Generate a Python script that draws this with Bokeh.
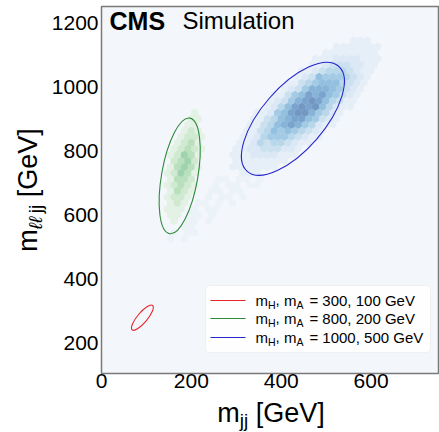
import math
from bokeh.plotting import figure
from bokeh.layouts import row, column
from bokeh.models import Label, BoxAnnotation, Arrow, Range1d, ColumnDataSource
from bokeh.palettes import Blues256, Greens256
from bokeh.transform import linear_cmap
from bokeh.embed import file_html
from bokeh.resources import INLINE

# ---------------- data ----------------
x_ticks = [0, 200, 400, 600]
y_ticks = [200, 400, 600, 800, 1000, 1200]
x_start, x_end = 0, 750
y_start, y_end = 106, 1250

# hexbin cells: hex row k, first hex column, level per cell (digit string, 0 = empty)
blue_rows = [39, 40, 41, 42, 43, 44, 45, 46, 47, 48, 49, 50,
             51, 52, 53, 54, 55, 56, 57, 58, 59, 60, 61]
blue_first = [20, 19, 19, 19, 19, 20, 20, 21, 21, 22, 22, 24,
              24, 25, 26, 27, 28, 29, 30, 31, 32, 34, 36]
blue_levels = ["111", "1111111", "11111111", "1112222111", "1122333221",
               "11243443211", "112455543211", "113465654321", "1134678754211",
               "1134678865321", "1125689975421", "1246898964211", "1235789864311",
               "1135687865321", "123577765321", "113456664321", "12365554321",
               "11234443211", "1123332211", "1112222111", "11111111", "1111111", "111"]

halo_rows = [28, 29, 30, 31, 32, 33, 34, 35, 36, 37, 38]
halo_first = [10, 10, 11, 12, 12, 13, 14, 15, 15, 16, 17]
halo_levels = ["101", "1011", "0110", "1101", "01101", "10110", "110101",
               "101101", "0110110", "1011011", "1101101"]

green_rows = [31, 32, 33, 34, 35, 36, 37, 38, 39, 40, 41, 42, 43, 44, 45, 46, 47, 48, 49]
green_first = [10, 10, 9, 10, 9, 10, 9, 10, 9, 10, 10, 10, 10, 11, 11, 12, 12, 13, 13]
green_levels = ["1", "11", "111", "121", "1221", "1321", "12321", "1332", "12431",
                "13431", "2342", "12431", "12321", "1231", "1221", "121", "11", "11", "1"]

# resolution ellipses (centre in GeV; width along x scale, height along y scale)
ell_x = [91, 174, 426]
ell_y = [280, 722, 900]
ell_w = [71, 261, 310]
ell_h = [31, 113, 195]
ell_angle = [50, 80, 49]
ell_color = ["#e8262a", "#2e8b3a", "#2727c9"]
leg_mH = ["300", "800", "1000"]
leg_mA = ["100", "200", "500"]

FONT = "Liberation Sans"

# ---------------- layout sizes ----------------
PAGE_W, PAGE_H = 439, 432
WY = 48                    # strip holding the y-axis title
MAIN_W = PAGE_W - WY
ML, MR, MT, MB = 51, 1, 6, 24
FRAME_H = 367
MAIN_H = MT + FRAME_H + MB

p = figure(width=MAIN_W, height=MAIN_H, output_backend="svg", toolbar_location=None,
           x_range=Range1d(x_start, x_end), y_range=Range1d(y_start, y_end),
           min_border_left=ML, min_border_right=MR, min_border_top=MT, min_border_bottom=MB)
p.background_fill_color = "#f3f6fa"
p.border_fill_color = "white"
p.grid.visible = False
p.outline_line_color = "#7a7a7a"
p.outline_line_width = 1.5

for ax, ticks in ((p.xaxis, x_ticks), (p.yaxis, y_ticks)):
    ax.ticker = ticks
    ax.axis_line_color = None
    ax.major_tick_line_color = None
    ax.minor_tick_line_color = None
    ax.major_tick_out = 0
    ax.major_tick_in = 0
    ax.major_label_text_font = FONT
    ax.major_label_text_font_size = "21px"
    ax.major_label_text_color = "black"
p.xaxis.major_label_standoff = 0
p.yaxis.major_label_standoff = 3

frame_w = MAIN_W - ML - MR
frame_h = FRAME_H
kx = frame_w / (x_end - x_start)
ky = frame_h / (y_end - y_start)
HEX = 12.5
ASPECT = kx / ky


def cells(rows, firsts, levels):
    q, r, lev = [], [], []
    for k, c0, s in zip(rows, firsts, levels):
        for i, ch in enumerate(s):
            if ch == "0":
                continue
            c = c0 + i
            q.append(c + (k + k % 2) // 2)
            r.append(-k)
            lev.append(int(ch))
    return ColumnDataSource(dict(q=q, r=r, level=lev))


def light_first(pal):
    pal = list(pal)
    def lum(h):
        return int(h[1:3], 16) + int(h[3:5], 16) + int(h[5:7], 16)
    return pal if lum(pal[0]) > lum(pal[-1]) else pal[::-1]


blues = light_first(Blues256)
greens = light_first(Greens256)

p.hex_tile(q="q", r="r", size=HEX, aspect_scale=ASPECT, source=cells(halo_rows, halo_first, halo_levels),
           fill_color=linear_cmap("level", blues, -0.5, 10), fill_alpha=0.3, line_color=None)
p.hex_tile(q="q", r="r", size=HEX, aspect_scale=ASPECT, source=cells(blue_rows, blue_first, blue_levels),
           fill_color=linear_cmap("level", blues, -0.5, 10), fill_alpha=0.55, line_color=None)
p.hex_tile(q="q", r="r", size=HEX, aspect_scale=ASPECT, source=cells(green_rows, green_first, green_levels),
           fill_color=linear_cmap("level", greens, -0.5, 7), fill_alpha=0.5, line_color=None)

p.ellipse(x=ell_x, y=ell_y, width=ell_w, height=ell_h, angle=ell_angle, angle_units="deg",
          fill_color=None, line_color=ell_color, line_width=1.1)

# Bokeh draws an "alphabetic" label a little below its anchor; compensate so that
# the given coordinate is where the visible baseline lands.
DROP = 0.36


def lab(fig, x, y, text, size, style="normal", angle=0.0):
    if angle:
        x = x - DROP * size
    else:
        y = y + DROP * size
    fig.add_layout(Label(x=x, y=y, x_units="screen", y_units="screen", text=text,
                         text_font=FONT, text_font_size=f"{size}px", text_font_style=style,
                         text_color="black", text_align="left", text_baseline="alphabetic",
                         angle=angle))


# CMS Simulation (baseline 23 px below the frame top)
lab(p, 8, frame_h - 23, "CMS", 25, "bold")
lab(p, 81, frame_h - 23, "Simulation", 24)

# legend
p.add_layout(BoxAnnotation(left=104, right=329, top=88, bottom=21,
                           left_units="screen", right_units="screen",
                           top_units="screen", bottom_units="screen",
                           fill_color="white", fill_alpha=0.85,
                           line_color="#d9d9d9", line_width=1, border_radius=4))
LS, LSUB = 15, 10.5
row_y = [73, 55, 36]
for yc, col, mh, ma in zip(row_y, ell_color, leg_mH, leg_mA):
    p.add_layout(Arrow(end=None, x_start=109, y_start=yc, x_end=144, y_end=yc,
                       start_units="screen", end_units="screen",
                       line_color=col, line_width=1.1))
    xb = 154
    yb = yc - 5
    lab(p, xb, yb, "m", LS)
    xb += 0.833 * LS
    lab(p, xb, yb - 3, "H", LSUB)
    xb += 0.722 * LSUB
    lab(p, xb, yb, ",", LS)
    xb += 0.556 * LS
    lab(p, xb, yb, "m", LS)
    xb += 0.833 * LS
    lab(p, xb, yb - 3, "A", LSUB)
    xb += 0.667 * LSUB + 0.4 * LS
    lab(p, xb, yb, f"= {mh}, {ma} GeV", LS)


def text_strip(w, h, left, right, top, bottom):
    f = figure(width=w, height=h, output_backend="svg", toolbar_location=None,
               x_range=Range1d(0, 1), y_range=Range1d(0, 1),
               x_axis_location=None, y_axis_location=None,
               min_border_left=left, min_border_right=right,
               min_border_top=top, min_border_bottom=bottom)
    f.grid.visible = False
    f.outline_line_color = None
    f.background_fill_color = "white"
    f.border_fill_color = "white"
    return f


AS, SUB = 27, 19
SP = 0.278 * AS
W_M, W_J2, W_L2, W_GEV = 0.833 * AS, 0.444 * SUB, 0.84 * SUB, 2.557 * AS

# y-axis title  m_{ll jj} [GeV]  (rotated); strip frame shares the main frame's rows
fy = text_strip(WY, PAGE_H, 0, 0, MT, PAGE_H - MT - frame_h)
y_len = W_M + W_L2 + W_J2 + SP + W_GEV
ya = frame_h / 2 - y_len / 2
B = 37
ang = math.pi / 2
lab(fy, B, ya, "m", AS, angle=ang)
ya += W_M
lab(fy, B + 5, ya, "\u2113\u2113", SUB, "italic", angle=ang)
ya += W_L2
lab(fy, B + 5, ya, "jj", SUB, angle=ang)
ya += W_J2 + SP
lab(fy, B, ya, "[GeV]", AS, angle=ang)

# x-axis title  m_{jj} [GeV]; strip frame shares the main frame's columns
XH = PAGE_H - MAIN_H
fx = text_strip(MAIN_W, XH, ML, MR, 0, 0)
x_len = W_M + W_J2 + SP + W_GEV
xa = frame_w / 2 - x_len / 2
base = 10
lab(fx, xa, base, "m", AS)
xa += W_M
lab(fx, xa, base - 5, "jj", SUB)
xa += W_J2 + SP
lab(fx, xa, base, "[GeV]", AS)

layout = row(fy, column(p, fx, spacing=0), spacing=0)
open("out.html", "w").write(file_html(layout, INLINE))
